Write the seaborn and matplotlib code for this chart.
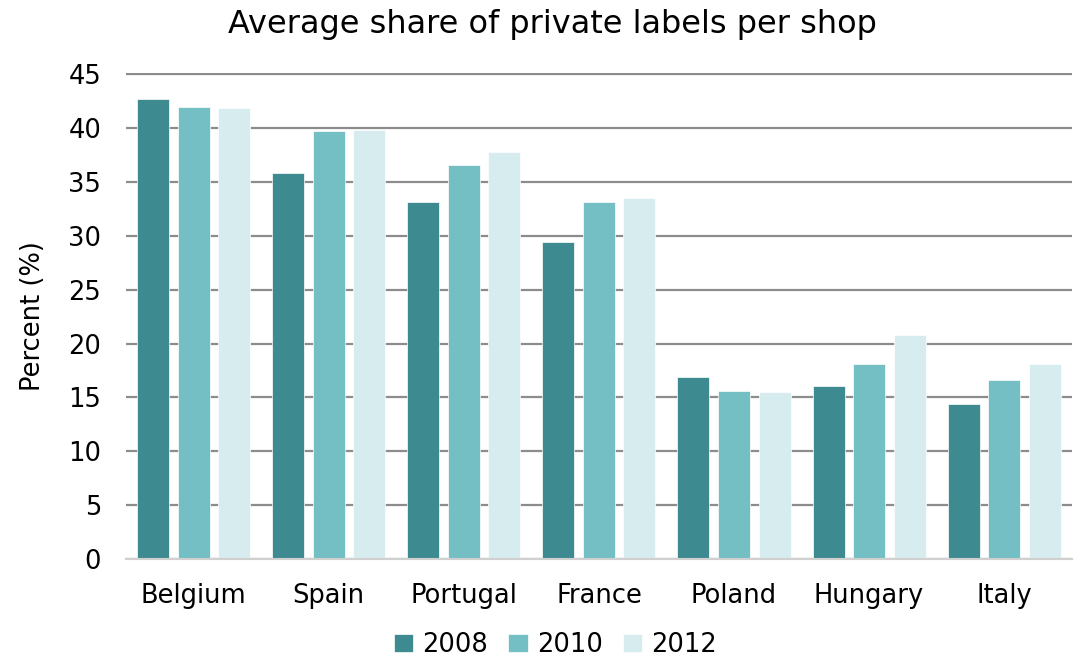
import matplotlib

matplotlib.use("Agg")
import matplotlib.pyplot as plt
import pandas as pd
import seaborn as sns

# Values (percent share of private labels).
COUNTRIES = ["Belgium", "Spain", "Portugal", "France", "Poland", "Hungary", "Italy"]
YEARS = ["2008", "2010", "2012"]
SHARE_2008 = [42.7, 35.8, 33.1, 29.4, 16.9, 16.1, 14.4]
SHARE_2010 = [41.9, 39.7, 36.5, 33.1, 15.6, 18.1, 16.6]
SHARE_2012 = [41.8, 39.8, 37.7, 33.5, 15.5, 20.8, 18.1]
COLORS = ["#3D8B91", "#74BFC4", "#D7ECEF"]
Y_TICKS = list(range(0, 50, 5))


def build_frame() -> pd.DataFrame:
    rows = []
    for year, values in zip(YEARS, [SHARE_2008, SHARE_2010, SHARE_2012]):
        for country, value in zip(COUNTRIES, values):
            rows.append({"Country": country, "Year": year, "Share": value})
    return pd.DataFrame(rows)


def main() -> None:
    df = build_frame()

    sns.set_theme(style="white")
    plt.rcParams["font.family"] = ["DejaVu Sans"]
    plt.rcParams["text.color"] = "black"
    plt.rcParams["axes.labelcolor"] = "black"

    fig, ax = plt.subplots(figsize=(10.88, 6.62), dpi=100)
    fig.subplots_adjust(left=0.116, right=0.985, top=0.89, bottom=0.155)

    # Horizontal grid lines drawn behind the bars.
    ax.set_axisbelow(True)
    ax.yaxis.grid(True, color="#8C8C8C", linewidth=1.6)

    sns.barplot(
        data=df,
        x="Country",
        y="Share",
        hue="Year",
        palette=COLORS,
        saturation=1,
        width=0.9,
        gap=0.21,
        edgecolor="white",
        linewidth=0.5,
        ax=ax,
    )

    ax.set_ylim(0, 45.08)
    ax.set_xlim(-0.5, len(COUNTRIES) - 0.5)
    ax.set_yticks(Y_TICKS)
    ax.tick_params(axis="both", labelsize=18.5, length=0, colors="black")
    ax.tick_params(axis="x", pad=17)
    ax.tick_params(axis="y", pad=18)
    ax.set_xlabel("")
    ax.set_ylabel("Percent (%)", fontsize=18.5, labelpad=16)
    # The title sits a little left of the plot centre, as in the reference.
    ax.set_title(
        "Average share of private labels per shop", fontsize=23, pad=29, x=0.451
    )

    for side in ["top", "right", "left"]:
        ax.spines[side].set_visible(False)
    ax.spines["bottom"].set_color("#D0D0D0")
    ax.spines["bottom"].set_linewidth(1.5)

    handles, labels = ax.get_legend_handles_labels()
    ax.legend(
        handles,
        labels,
        loc="upper center",
        bbox_to_anchor=(0.454, -0.112),
        ncol=3,
        frameon=False,
        fontsize=18.5,
        borderpad=0.2,
        handlelength=0.75,
        handleheight=0.75,
        handletextpad=0.35,
        columnspacing=0.8,
    )

    fig.savefig("out.png", dpi=100)
    plt.close(fig)


if __name__ == "__main__":
    main()
